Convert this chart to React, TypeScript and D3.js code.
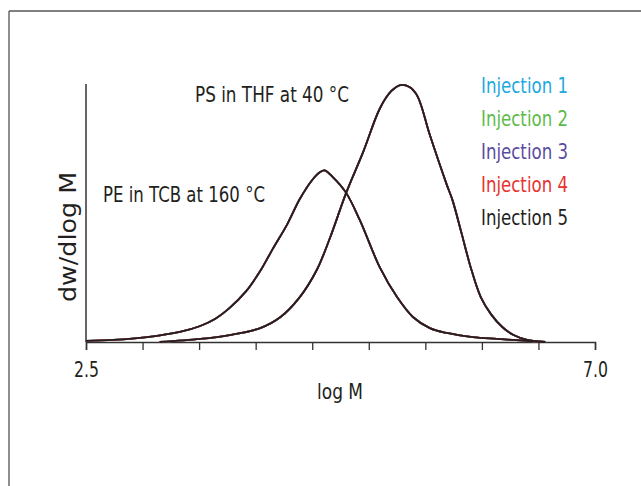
import React, { useEffect, useRef } from 'react';
import * as d3 from 'd3';

// PE in TCB at 160 °C
const peLogM = [2.5, 2.74, 3.04, 3.33, 3.51, 3.64, 3.77, 3.91, 4.04, 4.15, 4.28, 4.39, 4.5, 4.57, 4.61, 4.68, 4.8, 4.92, 5.1, 5.25, 5.39, 5.54, 5.69, 5.92, 6.13, 6.34, 6.56];
const peValues = [0.004, 0.008, 0.019, 0.039, 0.062, 0.089, 0.132, 0.194, 0.275, 0.36, 0.457, 0.554, 0.628, 0.659, 0.665, 0.64, 0.578, 0.473, 0.287, 0.174, 0.097, 0.054, 0.035, 0.019, 0.012, 0.006, 0];

// PS in THF at 40 °C
const psLogM = [3.15, 3.51, 3.77, 4.04, 4.22, 4.39, 4.54, 4.66, 4.8, 4.95, 5.1, 5.2, 5.28, 5.36, 5.43, 5.54, 5.69, 5.74, 5.82, 5.9, 5.99, 6.08, 6.18, 6.28, 6.4, 6.56];
const psValues = [0, 0.012, 0.027, 0.054, 0.097, 0.174, 0.279, 0.407, 0.578, 0.736, 0.907, 0.973, 0.996, 0.988, 0.953, 0.802, 0.609, 0.55, 0.422, 0.291, 0.174, 0.108, 0.058, 0.027, 0.008, 0];

const injections = ['Injection 1', 'Injection 2', 'Injection 3', 'Injection 4', 'Injection 5'];
const injectionColors = ['#1ba9e1', '#5dbb4a', '#5a4c9f', '#e8322f', '#231f20'];

const xTicks = [2.5, 3, 3.5, 4, 4.5, 5, 5.5, 6, 6.5, 7];
const xTickLabels = ['2.5', '', '', '', '', '', '', '', '', '7.0'];

const W = 641;
const H = 486;
const font = "'DejaVu Sans Condensed', 'DejaVu Sans', sans-serif";

export default function App() {
  const ref = useRef<SVGSVGElement>(null);

  useEffect(() => {
    const svg = d3.select(ref.current);
    svg.selectAll('*').remove();

    const x = d3.scaleLinear().domain([2.5, 7.0]).range([86, 595]);
    const y = d3.scaleLinear().domain([0, 1]).range([342, 84]);

    // frame
    svg.append('line').attr('x1', 9).attr('x2', W).attr('y1', 11).attr('y2', 11)
      .attr('stroke', '#808080').attr('stroke-width', 2);
    svg.append('line').attr('x1', 9).attr('x2', 9).attr('y1', 11).attr('y2', H)
      .attr('stroke', '#444').attr('stroke-width', 1.2);

    // condensed text, squeezed to the widths seen in the picture
    const label = (g: any, txt: string, len: number, size: number) =>
      g.attr('font-family', font)
        .attr('font-size', size)
        .attr('fill', '#231f20')
        .attr('textLength', len)
        .attr('lengthAdjust', 'spacingAndGlyphs')
        .text(txt);

    // axes
    const xAxis = d3.axisBottom(x)
      .tickValues(xTicks)
      .tickSize(8)
      .tickFormat((d, i) => xTickLabels[i]);
    const gx = svg.append('g')
      .attr('transform', `translate(0,${y(0)})`)
      .call(xAxis);
    gx.select('.domain').attr('stroke', '#333').attr('stroke-width', 1.5);
    gx.selectAll('.tick line').attr('stroke', '#333').attr('stroke-width', 1.3);
    gx.selectAll('.tick text').each(function (d, i) {
      const t = d3.select(this);
      if (!xTickLabels[i]) return;
      label(t, xTickLabels[i], 25, 21);
      t.attr('y', 35).attr('dy', null);
    });

    svg.append('line')
      .attr('x1', x(2.5)).attr('x2', x(2.5))
      .attr('y1', y(1)).attr('y2', y(0))
      .attr('stroke', '#333').attr('stroke-width', 1.5);

    label(svg.append('text')
      .attr('x', 340).attr('y', 399)
      .attr('text-anchor', 'middle'), 'log M', 46, 22);

    label(svg.append('text')
      .attr('transform', `translate(76,237) rotate(-90)`)
      .attr('text-anchor', 'middle'), 'dw/dlog M', 130, 23);

    // curves
    const line = d3.line<[number, number]>()
      .x(d => x(d[0]))
      .y(d => y(d[1]))
      .curve(d3.curveCatmullRom.alpha(0.5));

    const pe: [number, number][] = peLogM.map((m, i) => [m, peValues[i]]);
    const ps: [number, number][] = psLogM.map((m, i) => [m, psValues[i]]);

    const curves = svg.append('g').attr('fill', 'none').attr('stroke-width', 1.8);
    injections.forEach((name, i) => {
      [pe, ps].forEach(data => {
        curves.append('path')
          .attr('d', line(data))
          .attr('stroke', injectionColors[i]);
      });
    });

    // annotations
    label(svg.append('text').attr('x', 195).attr('y', 102), 'PS in THF at 40 °C', 154, 21);
    label(svg.append('text').attr('x', 103).attr('y', 202), 'PE in TCB at 160 °C', 162, 21);

    // legend
    svg.append('g')
      .selectAll('text')
      .data(injections)
      .join('text')
      .attr('x', 481)
      .attr('y', (d, i) => 93 + i * 33)
      .attr('font-family', font)
      .attr('font-size', 21)
      .attr('textLength', 87)
      .attr('lengthAdjust', 'spacingAndGlyphs')
      .attr('fill', (d, i) => injectionColors[i])
      .text(d => d);
  }, []);

  return (
    <svg ref={ref} width={W} height={H}
      style={{ position: 'absolute', left: 0, top: 0, background: '#fff' }} />
  );
}
